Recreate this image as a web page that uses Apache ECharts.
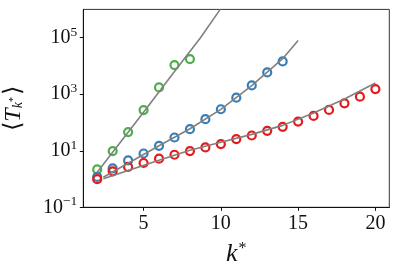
<!DOCTYPE html>
<html>
<head>
<meta charset="utf-8">
<script src="https://cdn.jsdelivr.net/npm/echarts@6/dist/echarts.min.js"></script>
<style>html,body{margin:0;padding:0;background:#fff}#c{width:399px;height:272px}</style>
</head>
<body>
<div id="c"></div>
<script>
// Data
const kGreen = [2, 3, 4, 5, 6, 7, 8];
const tGreen = [2.18, 9.75, 45.8, 275, 1735, 10700, 17500];
const kBlue = [2, 3, 4, 5, 6, 7, 8, 9, 10, 11, 12, 13, 14];
const tBlue = [1.19, 2.38, 4.55, 8.0, 15.0, 29.4, 58, 131, 294, 753, 2040, 5890, 14400];
const kRed = [2, 3, 4, 5, 6, 7, 8, 9, 10, 11, 12, 13, 14, 15, 16, 17, 18, 19, 20];
const tRed = [0.99, 1.87, 2.67, 3.69, 5.23, 7.23, 9.75, 13.1, 17.2, 25.8, 34.6, 50.6, 70, 108, 171, 278, 478, 816, 1520];

// Fit curves
const kFitGreen = [2, 5, 7, 8.67, 9.96];
const tFitGreen = [1.75, 232, 6400, 97000, 1000000];
const kFitBlue = [2.4, 4, 6, 8, 10, 12, 14, 15];
const tFitBlue = [1.15, 3.6, 15, 60, 290, 2000, 18000, 79800];
const kFitRed = [2.4, 4, 6, 8, 10, 12, 14, 16, 18, 20];
const tFitRed = [1.03, 2.0, 4.6, 10.5, 20, 38, 79, 218, 678, 2480];

const xTicks = [5, 10, 15, 20];
const yTicks = [0.1, 10, 1000, 100000];

const colors = { green: '#4daf4a', blue: '#377eb8', red: '#e41a1c', fit: '#808080' };

function pairs(xs, ys) { return xs.map((x, i) => [x, ys[i]]); }

const serif = '"Liberation Serif", "DejaVu Serif", serif';

function scatter(xs, ys, c) {
  return {
    type: 'scatter', data: pairs(xs, ys), symbol: 'circle', symbolSize: 8,
    itemStyle: { color: 'rgba(0,0,0,0)', borderColor: c, borderWidth: 2.2, opacity: 1 }, z: 2
  };
}
function fit(xs, ys) {
  return {
    type: 'line', data: pairs(xs, ys), showSymbol: false, smooth: false,
    lineStyle: { color: colors.fit, width: 1.6 }, z: 3, silent: true, clip: true
  };
}

const chart = echarts.init(document.getElementById('c'), null, { renderer: 'canvas' });
chart.setOption({
  animation: false,
  grid: { left: 83.3, top: 9.4, right: 9.7, bottom: 64.7, show: true, borderColor: '#333', borderWidth: 1, containLabel: false, outerBoundsMode: 'none' },
  xAxis: {
    type: 'value', min: 1.1, max: 20.9,
    splitLine: { show: false },
    axisLine: { show: true, lineStyle: { color: '#111', width: 1 } },
    axisTick: { show: true, inside: false, length: 3.5, lineStyle: { color: '#111' }, customValues: xTicks },
    axisLabel: { customValues: xTicks, fontFamily: serif, fontSize: 20, color: '#111', margin: 6 },
    name: '{k|k}{s|*}',
    nameLocation: 'middle', nameGap: 33,
    nameTextStyle: {
      rich: {
        k: { fontFamily: serif, fontStyle: 'italic', fontSize: 26, color: '#111' },
        s: { fontFamily: serif, fontSize: 16, color: '#111', padding: [0, 0, 12, 1] }
      }
    }
  },
  yAxis: {
    type: 'log', logBase: 10, min: 0.1, max: 1000000,
    splitLine: { show: false },
    minorTick: { show: false },
    axisLine: { show: true, lineStyle: { color: '#111', width: 1 } },
    axisTick: { show: true, inside: false, length: 3.5, lineStyle: { color: '#111' }, customValues: yTicks },
    axisLabel: {
      customValues: yTicks, margin: 6,
      formatter: function (v) {
        const e = Math.round(Math.log10(v));
        const es = e < 0 ? '\u2212' + (-e) : String(e);
        return '{b|10}{s|' + es + '}';
      },
      rich: {
        b: { fontFamily: serif, fontSize: 20, color: '#111' },
        s: { fontFamily: serif, fontSize: 13.5, color: '#111', padding: [0, 0, 11, 0] }
      }
    },
    name: '{a|\u27e8}{T|T}{s|k}{t|*}{a|\u27e9}',
    nameLocation: 'middle', nameGap: 58, nameRotate: 90,
    nameTextStyle: {
      rich: {
        a: { fontFamily: serif, fontSize: 24, color: '#111' },
        T: { fontFamily: serif, fontStyle: 'italic', fontSize: 24, color: '#111' },
        s: { fontFamily: serif, fontStyle: 'italic', fontSize: 14, color: '#111', padding: [10, 0, 0, 0] },
        t: { fontFamily: serif, fontSize: 10, color: '#111', padding: [0, 2, 0, 0] }
      }
    }
  },
  series: [
    scatter(kGreen, tGreen, colors.green),
    scatter(kBlue, tBlue, colors.blue),
    scatter(kRed, tRed, colors.red),
    fit(kFitGreen, tFitGreen),
    fit(kFitBlue, tFitBlue),
    fit(kFitRed, tFitRed)
  ]
});
</script>
</body>
</html>
